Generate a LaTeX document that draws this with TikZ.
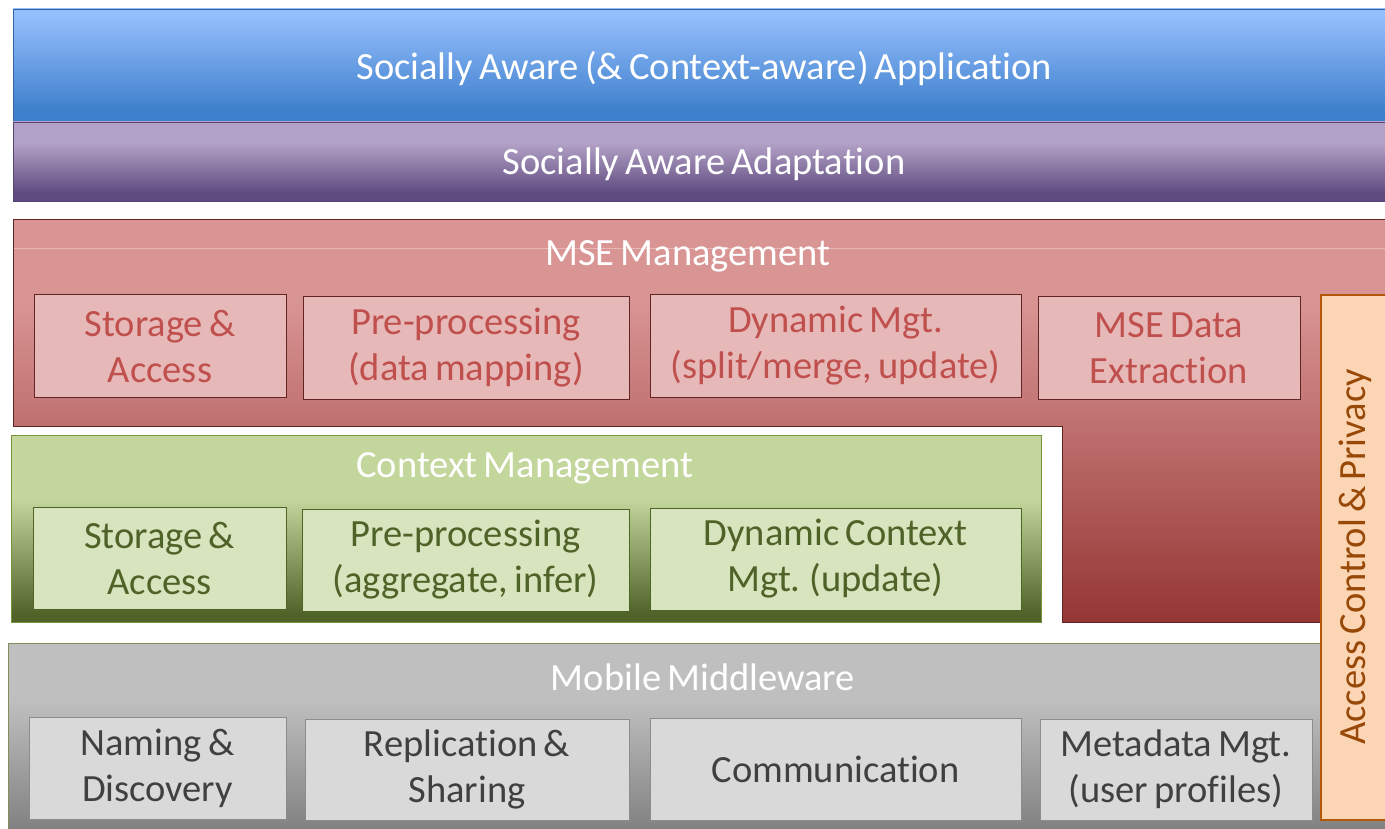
\documentclass[tikz,border=0pt]{standalone}
\usepackage{fontspec}
\setmainfont{Carlito}[Ligatures=NoCommon, RawFeature={-calt;-clig;-dlig}]
\newcommand{\boxfont}{\fontsize{38.5}{46}\selectfont\spaceskip=0.16em plus 0.04em minus 0.04em\relax}
\definecolor{blueT}{HTML}{95BEFD}
\definecolor{blueB}{HTML}{3E80CC}
\definecolor{purT}{HTML}{B3A2C7}
\definecolor{purB}{HTML}{5F4B7F}
\definecolor{redT}{HTML}{D99594}
\definecolor{redB}{HTML}{943634}
\definecolor{grnT}{HTML}{C3D69B}
\definecolor{grnB}{HTML}{4F6228}
\definecolor{gryT}{HTML}{BFBFBF}
\definecolor{gryB}{HTML}{7F7F7F}
\definecolor{redFill}{HTML}{E6B9B8}
\definecolor{redText}{HTML}{C0504D}
\definecolor{redLine}{HTML}{632523}
\definecolor{grnFill}{HTML}{D7E4BD}
\definecolor{grnText}{HTML}{4F6228}
\definecolor{grnLine}{HTML}{77933C}
\definecolor{gryFill}{HTML}{D9D9D9}
\definecolor{gryText}{HTML}{404040}
\definecolor{gryLine}{HTML}{8C8C8C}
\definecolor{orFill}{HTML}{FCD5B5}
\definecolor{orLine}{HTML}{B65708}
\definecolor{orText}{HTML}{984807}
\pgfdeclareverticalshading{blueSh}{100bp}{color(0bp)=(blueB); color(30bp)=(blueB); color(72bp)=(blueT); color(100bp)=(blueT)}
\pgfdeclareverticalshading{purSh}{100bp}{color(0bp)=(purB); color(30bp)=(purB); color(62bp)=(purT); color(100bp)=(purT)}
\pgfdeclareverticalshading{redSh}{100bp}{color(0bp)=(redB); color(25bp)=(redB); color(65bp)=(redT); color(100bp)=(redT)}
\pgfdeclareverticalshading{grnSh}{100bp}{color(0bp)=(grnB); color(27bp)=(grnB); color(58bp)=(grnT); color(100bp)=(grnT)}
\pgfdeclareverticalshading{grySh}{100bp}{color(0bp)=(gryB); color(25bp)=(gryB); color(60bp)=(gryT); color(100bp)=(gryT)}
\begin{document}
\begin{tikzpicture}[x=1pt,y=-1pt,
  txt/.style={font=\boxfont, align=center, inner sep=0pt},
  title/.style={txt, text=white},
  redbox/.style={txt, draw=redLine, line width=1pt, fill=redFill, text=redText},
  grnbox/.style={txt, draw=grnB, line width=1pt, fill=grnFill, text=grnText},
  grybox/.style={txt, draw=gryLine, line width=1pt, fill=gryFill, text=gryText}]
\useasboundingbox (0,0) rectangle (1385,829);
\fill[white] (0,0) rectangle (1385,829);
% layers
\shade[shading=blueSh, draw=blueB!80!black, line width=0.8pt] (13,9) rectangle (1392,122);
\shade[shading=purSh, draw=purB!90!black, line width=0.8pt] (13,122) rectangle (1392,201);
\shade[shading=redSh, draw=redLine, line width=1pt] (13,220) -- (1392,220) -- (1392,622) -- (1062,622) -- (1062,426) -- (13,426) -- cycle;
\draw[white, opacity=0.35, line width=0.8pt] (14,248) -- (1385,248);
\shade[shading=grnSh, draw=grnLine, line width=1pt] (11,435) rectangle (1041,622);
\shade[shading=grySh, draw=grnLine!60!gryLine, line width=1pt] (8,643) rectangle (1392,834);
% layer titles
\node[title] (app) at (704,69) {Socially Aware (\& Context-aware) Application};
\node[title] (adapt) at (704,164) {Socially Aware Adaptation};
\node[title] (mse) at (688,256) {MSE Management};
\node[title] (ctx) at (525,468) {Context Management};
\node[title] (mw) at (703,677) {Mobile Middleware};
% MSE row
\node[redbox, minimum width=252pt, minimum height=102pt] (m1) at (160,346) {Storage \&\\Access};
\node[redbox, minimum width=326pt, minimum height=102pt] (m2) at (466,348) {Pre-processing\\(data mapping)};
\node[redbox, minimum width=371pt, minimum height=102pt] (m3) at (835.5,346) {Dynamic Mgt.\\(split/merge, update)};
\node[redbox, minimum width=262pt, minimum height=102pt] (m4) at (1169,348) {MSE Data\\Extraction};
% Context row
\node[grnbox, minimum width=253pt, minimum height=102pt] (c1) at (159.5,558) {Storage \&\\Access};
\node[grnbox, minimum width=327pt, minimum height=102pt] (c2) at (465.5,560) {Pre-processing\\(aggregate, infer)};
\node[grnbox, minimum width=371pt, minimum height=102pt] (c3) at (835.5,559) {Dynamic Context\\Mgt. (update)};
% Middleware row
\node[grybox, minimum width=257pt, minimum height=102pt] (g1) at (157.5,768) {Naming \&\\Discovery};
\node[grybox, minimum width=324pt, minimum height=101pt] (g2) at (467,769.5) {Replication \&\\Sharing};
\node[grybox, minimum width=371pt, minimum height=102pt] (g3) at (835.5,769) {Communication};
\node[grybox, minimum width=272pt, minimum height=101pt] (g4) at (1176,769.5) {Metadata Mgt.\\(user profiles)};
% Access control
\draw[fill=orFill, draw=orLine, line width=1.2pt] (1321,295) rectangle (1392,820);
\node[txt, text=orText, rotate=90] (acp) at (1355,557) {Access Control \& Privacy};
\end{tikzpicture}
\end{document}
